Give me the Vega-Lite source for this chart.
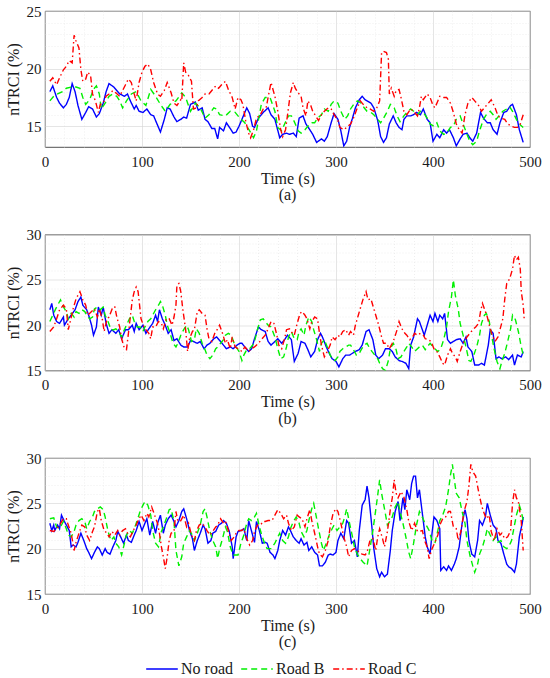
{
  "$schema": "https://vega.github.io/schema/vega-lite/v6.json",
  "padding": {"left": 4, "top": 3, "right": 12, "bottom": 2},
  "config": {
    "font": "Liberation Serif",
    "view": {"stroke": "#262626", "strokeWidth": 0.8},
    "axis": {
      "labelFont": "Liberation Serif", "titleFont": "Liberation Serif",
      "labelFontSize": 15, "titleFontSize": 16, "titleFontWeight": "normal",
      "labelColor": "#1a1a1a", "titleColor": "#1a1a1a",
      "domain": false, "ticks": false, "labelOverlap": false, "labelFlush": false, "labelBound": false,
      "gridWidth": 0.6
    },
    "axisX": {"labelPadding": 7, "titlePadding": 1},
    "axisY": {"labelPadding": 4, "titlePadding": 5},
    "title": {"font": "Liberation Serif", "fontSize": 16, "fontWeight": "normal", "color": "#1a1a1a", "offset": 1},
    "legend": {
      "orient": "none", "legendX": 100, "legendY": 641, "direction": "horizontal",
      "labelFont": "Liberation Serif", "labelFontSize": 16, "labelColor": "#1a1a1a",
      "symbolType": "stroke", "symbolSize": 1000,
      "symbolStrokeWidth": 1.5, "columnPadding": 5, "labelOffset": 2
    }
  },
  "datasets": {
    "nt": [
      {"p": "a", "s": "No road",
       "t": [5,8,12,15,19,22,25,28,31,34,38,42,45,49,53,56,60,63,66,71,77,82,85,88,92,94,97,101,105,109,112,116,119,123,126,129,133,136,140,143,146,150,155,158,162,165,168,172,175,178,180,184,187,191,194,197,200,204,208,211,214,216,220,225,230,233,237,242,245,249,252,256,259,262,266,269,273,276,280,285,288,291,295,298,302,305,308,311,314,317,320,324,327,330,332,336,339,343,346,349,352,355,359,362,365,368,370,373,377,380,383,387,390,394,397,400,404,407,411,414,417,421,424,428,431,435,438,441,445,449,452,456,459,462,466,469,473,476,480,482,486,489,493],
       "v": [18.0,18.5,17.5,17.0,16.6,16.9,17.5,18.7,18.0,16.8,15.6,16.2,16.7,16.5,15.8,16.1,17.0,18.0,18.7,18.4,17.8,17.6,17.8,17.2,16.5,16.8,16.3,16.2,16.5,16.0,15.9,15.1,14.5,15.6,16.6,16.5,15.8,15.4,15.6,15.8,15.7,16.9,17.1,16.4,16.6,15.6,15.4,14.8,14.8,13.9,14.9,14.6,15.3,14.8,14.4,14.5,15.0,15.8,16.6,16.1,15.0,14.9,15.7,16.2,16.6,16.0,15.6,14.0,14.3,14.4,14.3,14.4,14.1,15.7,15.9,15.2,14.7,14.3,13.6,13.9,13.7,14.1,15.3,16.1,15.6,14.6,13.3,13.7,14.9,15.7,16.6,17.3,17.6,17.3,17.2,17.0,16.6,15.5,14.1,13.6,14.0,15.2,15.9,15.3,14.9,14.7,15.6,15.9,15.9,16.0,16.2,16.0,16.5,15.6,15.3,13.7,14.3,14.0,14.7,14.4,14.7,14.0,13.3,13.9,14.3,14.4,14.0,13.7,14.4,16.2,15.7,15.3,15.3,14.7,14.3,15.3,16.2,16.3,16.8,16.9,16.0,14.7,13.6]},
      {"p": "a", "s": "Road B",
       "t": [5,9,13,18,22,27,32,36,39,42,46,50,53,56,58,62,66,70,74,77,80,84,89,94,99,104,109,114,119,124,129,135,141,145,150,155,160,165,169,174,177,180,186,191,196,201,206,211,215,218,223,227,232,237,240,244,247,251,254,257,261,264,268,271,275,278,281,285,288,292,295,298,302,305,309,312,315,319,322,326,329,332,336,339,343,346,349,353,356,360,363,366,370,373,377,380,384,387,390,394,397,401,404,407,411,414,418,421,424,428,431,435,438,441,445,448,452,455,459,462,465,469,472,476,479,482,486,489,493],
       "v": [17.2,17.6,17.8,18.0,18.3,18.4,18.4,18.3,17.5,16.9,17.3,18.2,18.5,17.8,16.5,17.0,17.6,17.8,17.6,17.2,16.6,17.2,17.8,18.0,17.2,16.8,18.2,17.6,16.9,16.3,16.9,17.2,17.9,17.5,16.3,17.0,16.6,15.7,16.0,16.6,16.5,16.0,15.9,16.3,16.2,15.7,15.3,14.6,14.0,14.6,16.9,17.5,17.5,16.3,14.9,14.6,15.2,15.9,15.9,15.4,14.6,14.4,14.7,15.0,15.3,15.3,15.7,16.0,16.5,16.3,16.9,17.2,17.0,16.3,15.6,15.9,16.5,17.0,17.2,17.0,16.6,16.3,16.2,16.0,15.6,15.3,15.7,16.3,16.9,16.6,15.9,15.4,15.9,16.2,16.5,16.3,16.0,16.3,16.2,15.7,15.2,15.0,15.3,14.6,14.3,14.4,14.9,15.0,15.6,15.9,15.2,14.3,13.7,13.4,13.7,14.6,15.6,16.0,16.3,16.0,15.6,16.0,16.3,16.5,16.7,16.3,15.6,15.2,14.9]},
      {"p": "a", "s": "Road C",
       "t": [5,8,12,15,19,22,25,28,30,32,35,37,39,42,44,47,49,52,55,57,60,63,66,70,73,77,80,83,86,89,92,94,97,100,103,106,109,112,116,119,123,126,130,133,136,140,141,143,145,148,151,153,156,158,162,165,169,172,176,179,182,186,189,193,196,199,202,204,207,210,212,215,218,222,225,228,230,233,237,240,243,245,248,251,253,256,258,261,264,266,269,271,274,276,279,282,285,288,292,295,298,302,304,308,311,315,318,322,325,328,332,335,339,342,345,347,349,352,354,355,357,360,362,365,367,370,373,377,380,384,386,388,390,394,397,400,402,405,407,411,414,418,421,424,427,430,433,436,440,443,447,450,453,457,460,464,467,470,474,477,481,484,487,490,493],
       "v": [18.9,19.2,18.6,19.2,19.9,20.2,20.7,20.5,22.9,22.4,21.8,19.9,18.9,19.1,19.7,19.4,17.8,17.2,16.2,16.9,17.0,17.6,17.8,18.1,17.9,17.6,18.1,18.6,19.1,18.8,17.8,17.2,18.8,19.7,20.2,20.4,19.9,18.8,17.8,17.6,18.1,18.8,17.9,17.0,16.8,17.3,17.2,20.5,19.7,19.4,18.9,16.5,16.6,17.2,17.5,17.8,17.8,18.1,18.5,18.3,18.6,18.9,18.2,17.5,16.5,17.5,17.3,16.9,15.4,14.4,14.0,14.7,15.7,16.0,16.5,16.6,17.5,18.8,17.6,16.3,14.7,14.1,14.7,16.6,17.9,18.8,18.3,17.9,17.6,16.6,15.9,17.2,16.8,16.3,15.9,15.5,16.0,16.3,16.6,16.5,16.0,15.5,14.9,14.7,14.9,15.2,15.7,16.6,17.2,16.9,16.6,16.5,16.3,16.6,17.2,21.4,21.5,21.4,20.8,17.8,18.3,17.6,18.1,18.2,17.5,16.3,16.0,16.5,16.3,15.9,16.6,17.6,17.3,17.8,17.5,16.8,16.6,17.2,17.6,17.5,17.5,17.0,16.2,15.2,14.7,14.4,16.0,17.0,17.5,17.2,16.8,16.3,16.6,17.0,17.3,16.6,15.9,15.7,15.6,15.2,15.0,14.9,14.9,15.2,16.0]},
      {"p": "b", "s": "No road",
       "t": [5,7,9,12,15,19,20,24,27,31,34,37,39,43,45,48,50,53,55,58,60,63,66,69,73,76,79,83,86,90,92,94,97,101,104,107,111,114,116,118,121,124,127,130,133,136,140,143,147,150,153,157,160,164,167,170,174,177,181,184,187,191,194,198,201,203,206,210,213,216,220,223,227,230,233,237,240,244,247,250,254,257,261,264,268,271,274,278,281,284,286,290,293,296,300,303,307,310,314,317,320,324,327,331,334,338,341,344,348,351,355,358,361,365,368,372,375,377,380,384,386,389,391,394,397,400,402,405,407,410,412,415,418,421,424,428,431,434,436,440,443,447,450,453,457,459,462,465,468,471,475,478,482,484,487,491,493],
       "v": [21.7,22.4,21.1,20.4,20.2,20.9,20.0,20.7,21.1,21.7,22.6,23.1,22.2,21.7,21.1,20.0,18.9,19.8,22.0,21.1,22.0,20.2,19.1,19.5,19.1,19.5,18.5,19.5,19.5,20.0,19.3,20.2,19.5,20.0,19.1,19.6,20.2,21.1,20.4,21.7,20.7,20.0,19.1,19.5,18.3,18.5,17.8,17.6,17.6,18.3,18.2,18.0,18.2,17.4,17.8,18.0,18.5,18.7,18.2,17.8,17.4,17.6,17.4,17.8,18.0,18.0,17.6,17.1,17.4,18.5,19.8,19.5,19.3,18.2,17.8,18.2,18.5,18.0,18.4,18.9,18.4,16.0,16.9,18.2,18.0,17.3,16.5,17.1,18.4,19.1,18.7,17.6,16.9,16.3,16.0,15.4,16.3,16.7,16.7,16.9,17.1,17.3,17.8,19.3,19.5,18.4,16.7,16.3,16.7,17.4,17.4,17.1,16.5,16.1,16.0,15.8,15.2,17.8,18.7,20.7,20.4,19.5,18.9,20.0,21.1,20.4,21.3,20.4,21.1,20.7,21.3,18.4,18.0,18.2,18.4,18.5,18.0,18.7,17.6,17.1,15.6,15.6,15.8,15.6,17.8,19.5,19.1,16.3,16.5,16.3,16.5,16.2,16.7,15.6,16.7,16.5,17.1]},
      {"p": "b", "s": "Road B",
       "t": [5,8,11,13,16,19,22,24,27,30,32,35,38,41,43,46,49,51,54,57,60,62,65,68,71,73,76,79,81,84,87,90,92,95,98,101,103,106,109,111,114,117,119,121,124,126,129,132,135,137,140,143,146,148,151,154,156,159,162,165,167,170,173,176,178,181,184,186,189,192,195,197,200,203,205,208,211,214,216,219,222,225,227,230,233,237,240,243,246,249,251,254,257,260,262,264,267,269,272,275,277,280,283,285,288,291,294,296,299,302,304,307,310,313,315,318,321,324,326,329,332,334,337,340,343,345,348,351,354,356,359,362,364,367,370,373,375,378,381,384,386,389,392,394,397,400,403,405,408,411,414,416,419,421,423,426,428,431,434,437,439,442,445,448,450,453,455,458,460,463,466,469,471,474,477,480,482,485,488,491,493],
       "v": [20.4,21.1,21.8,22.2,22.8,22.0,21.5,20.7,21.3,20.9,21.5,21.3,21.7,21.5,21.1,20.7,20.9,21.8,22.0,21.7,22.0,21.1,20.4,19.5,19.5,19.6,19.3,18.7,19.3,20.0,20.7,21.1,20.4,19.8,19.8,19.3,19.8,20.4,20.7,21.1,21.7,22.2,22.6,22.2,21.1,20.0,19.1,18.0,17.6,18.0,18.9,19.5,20.0,19.5,18.2,18.4,19.6,19.1,18.0,17.3,16.7,16.3,16.7,17.4,17.6,18.0,18.4,18.9,19.1,18.9,18.0,17.6,17.1,16.1,16.7,17.3,17.4,17.8,18.2,19.5,20.6,20.7,20.4,20.0,19.8,18.7,17.4,16.3,16.5,17.6,18.7,19.3,18.5,18.4,19.3,19.6,18.9,20.0,20.9,20.4,19.5,18.4,17.1,18.0,18.4,17.6,16.7,16.3,16.1,16.5,17.1,17.4,17.6,17.8,17.8,17.3,16.7,16.9,17.3,17.8,18.0,17.6,17.1,16.7,16.3,15.8,15.2,15.0,16.1,17.4,18.0,17.3,16.3,16.5,17.1,17.6,18.0,17.6,17.1,17.4,17.6,17.8,17.3,17.6,18.0,17.6,17.3,17.1,17.4,18.4,19.8,21.5,23.1,25.0,23.3,21.8,20.2,18.9,17.6,16.1,16.0,16.7,17.6,18.9,20.2,21.1,21.3,20.4,19.1,17.4,16.0,15.2,16.0,16.9,18.2,19.6,21.1,20.6,19.3,17.6,16.7]},
      {"p": "b", "s": "Road C",
       "t": [5,9,12,15,19,22,24,26,29,32,36,39,42,44,48,51,54,56,59,61,64,66,70,72,74,77,79,82,84,87,90,92,94,96,99,102,104,107,109,111,114,117,120,122,125,128,131,133,135,136,138,140,142,145,147,149,152,154,157,159,162,165,167,169,172,175,178,180,183,186,188,191,193,196,199,203,206,210,213,216,220,223,227,230,233,236,239,241,244,247,249,252,255,257,260,263,265,268,270,273,275,278,281,283,285,288,291,294,296,299,302,304,307,310,313,315,318,320,323,326,328,331,333,336,339,341,344,347,349,352,355,358,360,363,365,368,371,373,376,379,381,384,387,390,392,395,398,401,404,407,410,412,415,418,420,423,425,428,431,435,438,441,444,447,449,451,453,456,458,461,464,467,469,472,474,476,479,482,484,486,488,490,491,493,494],
       "v": [19.3,19.8,20.7,21.7,22.2,21.8,19.5,20.4,21.8,22.9,23.7,22.8,22.2,21.1,21.5,21.8,20.9,21.8,20.7,19.3,20.7,20.9,22.0,22.0,20.9,19.8,18.5,17.4,17.3,20.0,22.8,23.7,24.2,23.7,20.7,19.8,19.5,19.1,18.5,19.8,19.8,20.4,20.2,19.6,20.7,20.7,20.0,20.9,22.2,24.4,24.6,23.7,21.8,19.5,17.1,18.5,19.3,19.5,21.5,21.7,21.3,21.1,19.6,18.5,18.2,19.1,19.6,20.0,19.1,18.0,18.4,17.4,18.7,17.6,17.4,17.1,17.6,17.1,17.4,17.6,18.0,18.4,18.9,19.6,20.4,20.2,18.9,17.8,17.4,18.5,19.5,19.6,19.1,18.9,20.2,21.3,21.5,21.1,20.7,19.6,20.4,20.9,20.7,19.1,17.8,16.5,17.1,17.8,18.7,18.4,18.9,18.7,19.3,19.5,18.9,19.3,18.9,20.0,21.1,22.2,22.9,23.7,22.8,22.9,21.8,21.1,20.0,18.7,18.0,18.0,17.4,18.0,18.5,19.5,20.4,19.6,19.1,18.9,18.4,18.7,19.1,18.9,19.1,18.9,18.5,18.4,18.2,17.4,17.1,16.5,15.8,15.6,16.7,17.4,16.9,16.5,16.0,17.1,18.0,18.7,19.1,19.5,19.8,20.2,21.5,22.4,21.8,20.9,20.0,18.9,18.2,18.7,19.5,20.7,22.9,24.6,25.1,26.2,27.7,27.2,27.5,26.2,23.7,22.2,20.7]},
      {"p": "c", "s": "No road",
       "t": [5,7,9,10,13,15,17,20,22,25,27,29,32,34,37,40,43,45,48,51,54,56,59,62,64,67,70,73,75,78,81,84,86,89,92,94,97,100,103,105,108,111,114,116,119,122,124,127,130,133,135,138,141,143,146,149,152,154,157,160,163,165,168,171,173,176,179,182,184,187,190,193,194,197,199,202,205,208,210,213,216,218,221,224,227,229,232,235,237,240,242,245,248,251,253,256,259,262,264,267,270,272,275,278,281,283,286,289,292,294,297,300,302,305,308,311,313,316,319,322,324,327,330,332,334,337,339,342,345,347,350,353,356,358,361,364,366,369,371,373,376,378,380,382,384,386,389,392,394,397,399,401,404,407,408,411,414,416,419,422,424,427,430,433,435,437,440,443,446,448,451,454,456,459,462,465,467,470,473,476,478,481,484,486,489,492,493],
       "v": [22.8,22.0,22.6,22.0,22.6,22.2,23.7,23.0,22.6,22.0,20.2,20.4,20.2,20.7,21.7,20.9,20.0,19.6,18.9,19.6,20.2,20.0,19.3,20.0,19.6,19.4,20.2,20.9,21.9,21.3,20.6,21.5,20.9,20.7,21.5,22.0,23.0,22.0,22.8,23.3,21.5,23.0,21.7,22.8,23.7,21.7,22.6,23.3,23.7,23.0,22.4,23.1,24.1,24.4,23.3,22.0,21.1,19.8,20.9,21.7,22.6,22.2,20.6,20.9,21.7,21.9,22.6,22.8,23.1,22.8,21.9,20.2,18.9,21.3,21.9,22.0,22.2,20.9,23.1,21.9,20.7,23.0,22.0,20.6,20.7,20.6,19.6,19.3,18.9,19.8,20.9,22.0,21.5,22.4,22.0,21.3,20.9,20.6,21.1,20.4,20.7,19.8,20.2,19.6,19.3,18.1,18.1,18.5,19.3,19.4,19.3,19.6,20.9,21.7,21.1,23.1,22.8,20.6,20.9,19.1,22.0,24.8,25.4,26.9,25.6,22.4,20.0,17.8,16.9,17.4,16.9,17.2,19.8,22.0,24.1,25.2,23.1,25.6,24.3,26.5,25.4,27.2,28.0,28.0,25.6,26.5,23.9,21.3,20.2,19.4,21.7,23.5,23.1,22.2,17.6,18.0,17.6,18.1,17.6,18.3,18.9,20.2,22.8,24.3,23.3,20.9,19.4,19.1,20.9,23.1,22.6,23.5,25.0,23.7,22.6,22.2,20.9,20.6,19.4,18.3,18.0,17.8,17.4,18.3,21.3,22.8,23.5]},
      {"p": "c", "s": "Road B",
       "t": [5,9,12,15,19,22,24,27,30,32,35,38,41,43,46,49,51,54,57,60,62,65,68,71,73,76,79,81,84,87,90,92,95,98,101,103,106,109,111,114,117,120,122,125,128,130,133,135,138,141,143,146,149,152,154,157,160,163,165,167,170,173,176,178,180,183,186,188,191,194,197,199,202,205,208,210,213,216,218,221,224,227,229,233,237,240,242,245,248,251,253,256,259,262,264,267,270,272,275,277,279,282,285,287,290,293,296,298,301,304,307,309,311,314,317,319,322,325,328,330,332,335,338,341,343,345,347,350,353,356,358,361,364,366,369,372,375,377,380,383,386,388,391,394,396,399,402,405,407,410,413,416,418,420,422,424,427,430,433,435,438,441,443,446,448,451,454,456,459,462,465,467,470,473,476,478,481,484,486,489,491,493],
       "v": [23.3,23.4,22.4,22.2,23.0,22.2,21.5,21.3,21.9,22.6,23.1,23.3,23.0,22.2,23.0,23.5,24.1,24.4,24.6,24.3,23.5,21.9,20.9,21.3,20.6,20.2,19.3,20.2,21.5,22.0,21.7,22.2,23.1,24.1,24.8,25.2,24.8,23.7,22.0,20.6,20.2,21.9,22.4,23.3,24.3,24.4,23.0,19.8,18.1,19.1,20.6,21.3,22.0,21.5,20.9,21.7,22.6,24.1,24.4,23.5,21.9,20.9,20.2,18.9,20.0,21.1,22.4,21.9,20.2,19.3,19.3,19.3,20.6,21.5,22.8,23.3,23.1,23.5,23.9,22.4,21.3,20.4,20.0,20.0,20.6,21.3,21.7,20.9,20.6,21.3,22.2,23.0,23.5,22.8,21.9,21.3,22.0,23.1,24.4,25.0,23.9,22.2,20.6,19.8,20.6,21.5,22.2,22.6,22.0,22.4,22.8,23.5,24.4,22.8,21.3,20.2,19.4,18.9,18.5,18.3,18.1,20.0,22.0,24.3,25.9,27.6,26.1,24.4,22.6,23.1,23.5,24.6,25.2,24.1,22.8,21.3,19.6,18.9,20.6,22.6,24.1,23.7,23.0,22.4,22.0,20.9,20.6,22.0,23.1,23.7,24.6,26.5,28.1,29.3,27.6,26.1,25.6,24.1,22.8,20.9,19.3,18.1,17.4,18.3,19.4,20.2,21.3,22.2,21.5,20.9,21.3,20.7,20.9,20.2,20.0,20.2,20.9,22.6,23.7,24.8,24.1,23.1]},
      {"p": "c", "s": "Road C",
       "t": [5,9,12,15,19,22,24,27,30,32,35,38,41,43,46,49,51,54,56,58,61,64,66,69,72,75,77,80,83,86,88,91,94,96,99,102,105,107,110,113,116,118,120,122,124,126,128,130,133,135,137,140,143,146,148,151,154,156,159,162,165,167,170,173,176,178,181,184,186,189,192,195,197,200,203,205,208,211,214,216,219,222,225,227,230,234,237,240,243,246,249,251,254,257,260,262,265,268,270,273,275,278,281,283,286,289,292,294,297,300,302,305,308,311,313,316,319,322,324,327,330,332,335,338,341,343,345,348,350,353,356,358,360,362,364,367,370,373,375,378,381,384,386,389,392,394,396,399,402,405,407,410,413,416,418,421,424,426,429,432,435,437,439,441,444,447,450,452,455,458,460,463,466,469,471,474,477,480,482,484,486,488,491,493],
       "v": [22.0,21.9,22.2,22.6,23.3,23.3,22.6,21.7,19.8,20.7,21.7,22.6,22.4,21.5,20.9,21.9,22.4,24.1,24.4,23.1,22.0,21.7,21.3,21.9,21.5,22.0,21.5,22.0,22.2,21.5,21.3,22.0,22.6,23.1,23.7,23.1,23.9,23.5,24.6,23.7,22.8,21.7,20.2,19.1,17.8,19.1,20.9,21.7,21.9,24.1,23.0,23.1,23.7,22.4,22.8,21.5,20.9,21.9,22.6,22.8,22.4,22.0,21.5,21.9,22.4,22.6,23.3,22.8,23.0,22.0,20.9,21.3,21.7,22.0,22.0,22.2,21.1,20.4,20.9,21.9,22.6,22.6,23.0,23.0,23.1,23.1,23.7,24.3,23.9,23.3,23.7,22.8,22.0,22.4,23.7,23.5,23.3,22.4,23.3,24.3,23.1,21.7,20.2,19.4,19.1,19.8,20.9,22.4,23.9,24.4,24.1,22.8,21.3,20.2,19.1,19.8,20.0,19.8,19.6,19.4,19.3,19.6,20.9,21.1,19.8,21.3,22.2,21.1,20.2,21.9,24.3,25.6,27.6,26.1,25.6,26.3,25.7,24.3,23.0,22.0,22.8,21.9,21.9,22.0,20.7,20.2,18.9,20.0,20.7,21.5,22.6,23.3,23.5,24.1,24.1,22.4,22.2,20.9,22.0,24.1,25.2,26.9,29.3,28.5,28.0,26.3,24.8,24.1,23.3,23.7,21.9,20.9,22.2,21.5,21.7,21.1,21.3,22.0,25.0,26.5,25.6,25.2,23.0,19.8]}
    ]
  },
  "spacing": 22.5,
  "resolve": {"scale": {"x": "independent", "y": "independent", "color": "shared", "strokeDash": "shared"}},
  "vconcat": [
    {
      "width": 485, "height": 136,
      "data": {"name": "nt"},
      "transform": [{"filter": "datum.p == 'a'"}, {"flatten": ["t", "v"]}],
      "title": {"text": "(a)", "orient": "bottom"},
      "mark": {"type": "line", "clip": true, "strokeWidth": 1.4},
      "encoding": {
        "x": {"field": "t", "type": "quantitative", "scale": {"domain": [0, 500], "nice": false},
          "axis": {"title": "Time (s)",
            "values": [0,20,40,60,80,100,120,140,160,180,200,220,240,260,280,300,320,340,360,380,400,420,440,460,480,500],
            "labelExpr": "datum.value % 100 === 0 ? datum.label : ''",
            "gridDash": {"condition": {"test": "datum.value % 100 === 0", "value": []}, "value": [1, 2]},
            "gridColor": {"condition": {"test": "datum.value % 100 === 0", "value": "#d4d4d4"}, "value": "#e4e4e4"}}},
        "y": {"field": "v", "type": "quantitative", "scale": {"domain": [13.2, 25], "nice": false, "zero": false},
          "axis": {"title": "nTRCI (%)",
            "values": [14,15,16,17,18,19,20,21,22,23,24,25],
            "labelExpr": "datum.value % 5 === 0 ? datum.label : ''",
            "gridDash": {"condition": {"test": "datum.value % 5 === 0", "value": []}, "value": [1, 2]},
            "gridColor": {"condition": {"test": "datum.value % 5 === 0", "value": "#d4d4d4"}, "value": "#e4e4e4"}}},
        "color": {"field": "s", "type": "nominal", "title": null,
          "scale": {"domain": ["No road", "Road B", "Road C"], "range": ["#0000ff", "#00f000", "#ff0000"]}},
        "strokeDash": {"field": "s", "type": "nominal", "title": null,
          "scale": {"domain": ["No road", "Road B", "Road C"], "range": [[1, 0], [6, 4], [6, 3, 1.5, 3]]}}
      }
    },
    {
      "width": 485, "height": 136,
      "data": {"name": "nt"},
      "transform": [{"filter": "datum.p == 'b'"}, {"flatten": ["t", "v"]}],
      "title": {"text": "(b)", "orient": "bottom"},
      "mark": {"type": "line", "clip": true, "strokeWidth": 1.4},
      "encoding": {
        "x": {"field": "t", "type": "quantitative", "scale": {"domain": [0, 500], "nice": false},
          "axis": {"title": "Time (s)",
            "values": [0,20,40,60,80,100,120,140,160,180,200,220,240,260,280,300,320,340,360,380,400,420,440,460,480,500],
            "labelExpr": "datum.value % 100 === 0 ? datum.label : ''",
            "gridDash": {"condition": {"test": "datum.value % 100 === 0", "value": []}, "value": [1, 2]},
            "gridColor": {"condition": {"test": "datum.value % 100 === 0", "value": "#d4d4d4"}, "value": "#e4e4e4"}}},
        "y": {"field": "v", "type": "quantitative", "scale": {"domain": [15, 30], "nice": false, "zero": false},
          "axis": {"title": "nTRCI (%)",
            "values": [15,16,17,18,19,20,21,22,23,24,25,26,27,28,29,30],
            "labelExpr": "datum.value % 5 === 0 ? datum.label : ''",
            "gridDash": {"condition": {"test": "datum.value % 5 === 0", "value": []}, "value": [1, 2]},
            "gridColor": {"condition": {"test": "datum.value % 5 === 0", "value": "#d4d4d4"}, "value": "#e4e4e4"}}},
        "color": {"field": "s", "type": "nominal", "title": null,
          "scale": {"domain": ["No road", "Road B", "Road C"], "range": ["#0000ff", "#00f000", "#ff0000"]}},
        "strokeDash": {"field": "s", "type": "nominal", "title": null,
          "scale": {"domain": ["No road", "Road B", "Road C"], "range": [[1, 0], [6, 4], [6, 3, 1.5, 3]]}}
      }
    },
    {
      "width": 485, "height": 136,
      "data": {"name": "nt"},
      "transform": [{"filter": "datum.p == 'c'"}, {"flatten": ["t", "v"]}],
      "title": {"text": "(c)", "orient": "bottom"},
      "mark": {"type": "line", "clip": true, "strokeWidth": 1.4},
      "encoding": {
        "x": {"field": "t", "type": "quantitative", "scale": {"domain": [0, 500], "nice": false},
          "axis": {"title": "Time (s)",
            "values": [0,20,40,60,80,100,120,140,160,180,200,220,240,260,280,300,320,340,360,380,400,420,440,460,480,500],
            "labelExpr": "datum.value % 100 === 0 ? datum.label : ''",
            "gridDash": {"condition": {"test": "datum.value % 100 === 0", "value": []}, "value": [1, 2]},
            "gridColor": {"condition": {"test": "datum.value % 100 === 0", "value": "#d4d4d4"}, "value": "#e4e4e4"}}},
        "y": {"field": "v", "type": "quantitative", "scale": {"domain": [15, 30], "nice": false, "zero": false},
          "axis": {"title": "nTRCI (%)",
            "values": [15,16,17,18,19,20,21,22,23,24,25,26,27,28,29,30],
            "labelExpr": "datum.value % 5 === 0 ? datum.label : ''",
            "gridDash": {"condition": {"test": "datum.value % 5 === 0", "value": []}, "value": [1, 2]},
            "gridColor": {"condition": {"test": "datum.value % 5 === 0", "value": "#d4d4d4"}, "value": "#e4e4e4"}}},
        "color": {"field": "s", "type": "nominal", "title": null,
          "scale": {"domain": ["No road", "Road B", "Road C"], "range": ["#0000ff", "#00f000", "#ff0000"]}},
        "strokeDash": {"field": "s", "type": "nominal", "title": null,
          "scale": {"domain": ["No road", "Road B", "Road C"], "range": [[1, 0], [6, 4], [6, 3, 1.5, 3]]}}
      }
    }
  ]
}
